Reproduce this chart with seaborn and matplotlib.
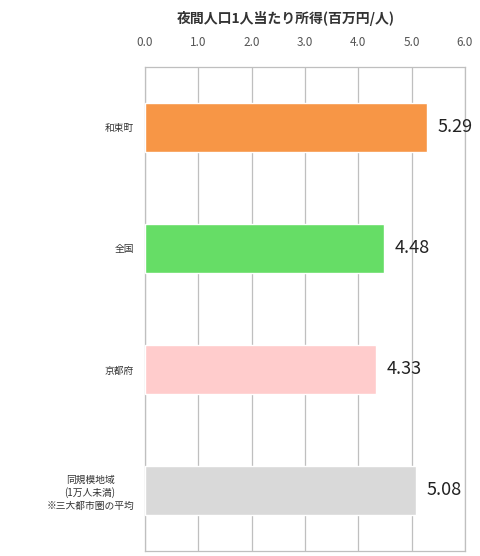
import pandas as pd
import seaborn as sns
import matplotlib.pyplot as plt

regions = ['和束町', '全国', '京都府', '同規模地域\n(1万人未満)\n※三大都市圏の平均']
income = [5.29, 4.48, 4.33, 5.08]
colors = ['#F79646', '#66DD66', '#FFCCCC', '#D9D9D9']
ticks = [0, 1, 2, 3, 4, 5, 6]

df = pd.DataFrame({'地域': regions, '所得': income})

sns.set_style('white')
plt.rcParams['font.family'] = ['Noto Sans CJK JP', 'DejaVu Sans']

fig = plt.figure(figsize=(4.81, 5.56), dpi=100)
ax = fig.add_axes([0.3015, 0.009, 0.665, 0.8705])

sns.barplot(data=df, x='所得', y='地域', hue='地域', palette=colors,
            saturation=1, width=0.4, legend=False, ax=ax, zorder=3)

ax.set_xlim(0, 6)
ax.set_xticks(ticks)
ax.set_xticklabels([f'{t:.1f}' for t in ticks], fontsize=8.5, color='#555555')
ax.xaxis.tick_top()
ax.tick_params(axis='x', length=0, pad=13)
ax.tick_params(axis='y', length=0, pad=8)
ax.set_yticks(range(len(regions)))
ax.set_yticklabels(regions, fontsize=7, color='#333333', linespacing=1.3)
for lab in ax.get_yticklabels():
    lab.set_multialignment('center')
ax.grid(axis='x', color='#BFBFBF', linewidth=0.9, zorder=0)
ax.set_xlabel('')
ax.set_ylabel('')
for s in ax.spines.values():
    s.set_color('#BFBFBF')
    s.set_linewidth(0.9)

for i, v in enumerate(income):
    ax.text(v + 0.2, i, f'{v:.2f}', va='center', ha='left', fontsize=13, color='#222222')

fig.text(0.595, 0.967, '夜間人口1人当たり所得(百万円/人)', ha='center', va='center',
         fontsize=10, fontweight='bold', color='#333333')

fig.savefig('out.png', dpi=100)
